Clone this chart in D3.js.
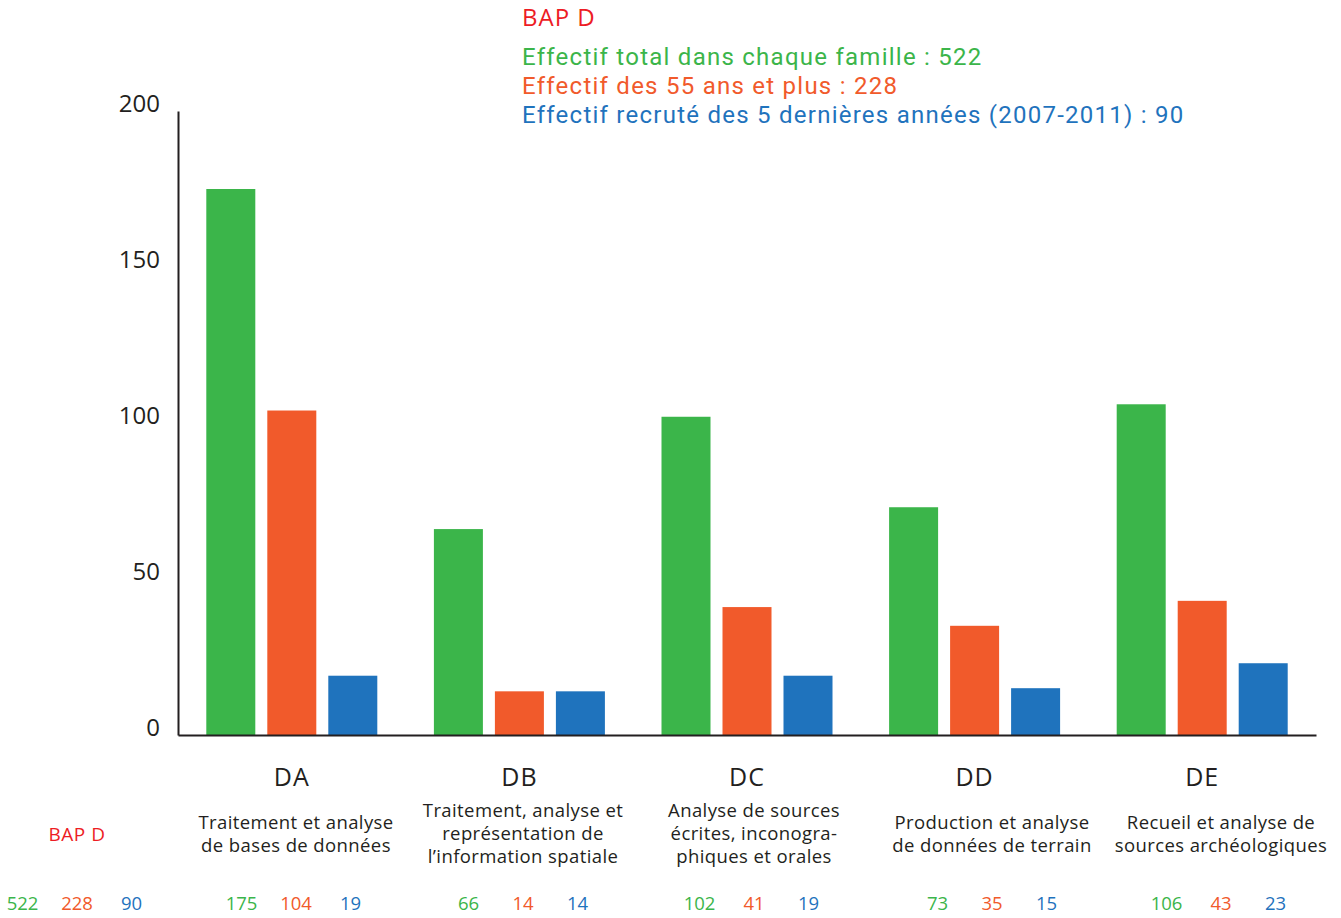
<!DOCTYPE html>
<html><head><meta charset="utf-8">
<script src="https://cdn.jsdelivr.net/npm/d3@7"></script>
<style>
html,body{margin:0;padding:0;background:#fff;}
svg{display:block;font-family:"Open Sans","Noto Sans",sans-serif;}
</style></head>
<body>
<svg id="chart" width="1341" height="918"></svg>
<script>
// ---- data ----
const categories = ["DA","DB","DC","DD","DE"];
const descriptions = [
  ["Traitement et analyse","de bases de données"],
  ["Traitement, analyse et","représentation de","l’information spatiale"],
  ["Analyse de sources","écrites, inconogra-","phiques et orales"],
  ["Production et analyse","de données de terrain"],
  ["Recueil et analyse de","sources archéologiques"]
];
const seriesNames = ["Effectif total dans chaque famille","Effectif des 55 ans et plus","Effectif recruté des 5 dernières années (2007-2011)"];
const totalValues = [175, 66, 102, 73, 106];
const senior55Values = [104, 14, 41, 35, 43];
const recruitedValues = [19, 14, 19, 15, 23];
const summaryTitle = "BAP D";
const summaryTotals = [522, 228, 90];
const yTicks = [0, 50, 100, 150, 200];

// ---- styles ----
const colors = ["#3BB54A", "#F15A2B", "#1F73BD"];
const red = "#ED1C24";
const ink = "#231F20";
const font = '"Open Sans","Noto Sans",sans-serif';

const svg = d3.select("#chart");
const series = [totalValues, senior55Values, recruitedValues];

const x = d3.scaleBand().domain(categories).range([178, 1316]).padding(0);
const xi = d3.scaleBand().domain(d3.range(3)).range([-85.5, 85.5]).paddingInner(12/61).paddingOuter(0);
const y = d3.scaleLinear().domain([0, 200]).range([735, 111]);

// bars
const rows = [];
categories.forEach((c, i) => series.forEach((s, k) => rows.push({c, k, v: s[i]})));
svg.append("g").selectAll("rect").data(rows).join("rect")
  .attr("x", d => x(d.c) + x.bandwidth()/2 + xi(d.k))
  .attr("width", xi.bandwidth())
  .attr("y", d => y(d.v))
  .attr("height", d => y(0) - y(d.v))
  .attr("fill", d => colors[d.k]);

// y axis
const yAxis = d3.axisLeft(y).tickValues(yTicks).tickSize(0).tickPadding(18).tickFormat(d3.format("d"));
const gy = svg.append("g").attr("transform", "translate(178,0)").call(yAxis)
  .attr("font-family", font).attr("font-size", 24);
gy.select(".domain").attr("stroke", ink).attr("stroke-width", 2);
gy.selectAll("text").attr("fill", ink)
  .attr("dy", "0.35em").attr("transform", "translate(0,-7.5)");

// x axis line
const xAxis = d3.axisBottom(x).tickSize(0).tickFormat("");
const gx = svg.append("g").attr("transform", "translate(0,735)").call(xAxis);
gx.select(".domain").attr("stroke", ink).attr("stroke-width", 2);

// category labels
svg.append("g").selectAll("text").data(categories).join("text")
  .attr("x", d => x(d) + x.bandwidth()/2)
  .attr("y", 777).attr("dy", "0.35em")
  .attr("text-anchor", "middle").attr("font-size", 25).attr("letter-spacing", 1).attr("fill", ink)
  .text(d => d);

// table columns (layout)
const tableCols = [77, 296, 523, 754, 992, 1221];
const lineH = 23;

svg.append("text").attr("x", tableCols[0]).attr("y", 834).attr("dy", "0.35em")
  .attr("text-anchor", "middle").attr("font-size", 19).attr("letter-spacing", 0.5).attr("fill", red).text(summaryTitle);

const desc = svg.append("g").selectAll("text").data(descriptions).join("text")
  .attr("text-anchor", "middle").attr("font-size", 18.5).attr("letter-spacing", 0.4).attr("fill", ink);
desc.each(function(lines, i) {
  const t = d3.select(this);
  const y0 = 834 - (lines.length - 1) * lineH / 2;
  lines.forEach((l, j) => t.append("tspan").attr("x", tableCols[i + 1]).attr("y", y0 + j * lineH).attr("dy", "0.35em").text(l));
});

// bottom numbers
const numRows = [];
summaryTotals.forEach((v, k) => numRows.push({col: 0, k, v}));
categories.forEach((c, i) => series.forEach((s, k) => numRows.push({col: i + 1, k, v: s[i]})));
svg.append("g").selectAll("text").data(numRows).join("text")
  .attr("x", d => tableCols[d.col] + (d.k - 1) * 54.5)
  .attr("y", 904).attr("dy", "0.35em")
  .attr("text-anchor", "middle").attr("font-size", 18.5)
  .attr("fill", d => colors[d.k]).text(d => d.v);

// top legend
svg.append("text").attr("x", 522).attr("y", 18).attr("dy", "0.35em")
  .attr("font-size", 24).attr("letter-spacing", 1).attr("fill", red).text(summaryTitle);
svg.append("g").attr("font-family", "Roboto, 'Open Sans', sans-serif")
  .selectAll("text").data(seriesNames).join("text")
  .attr("x", 522).attr("y", (d, i) => 57 + i * 28.7).attr("dy", "0.35em")
  .attr("font-size", 24).attr("letter-spacing", 1.25).attr("fill", (d, i) => colors[i])
  .text((d, i) => d + " : " + summaryTotals[i]);
</script>
</body></html>
